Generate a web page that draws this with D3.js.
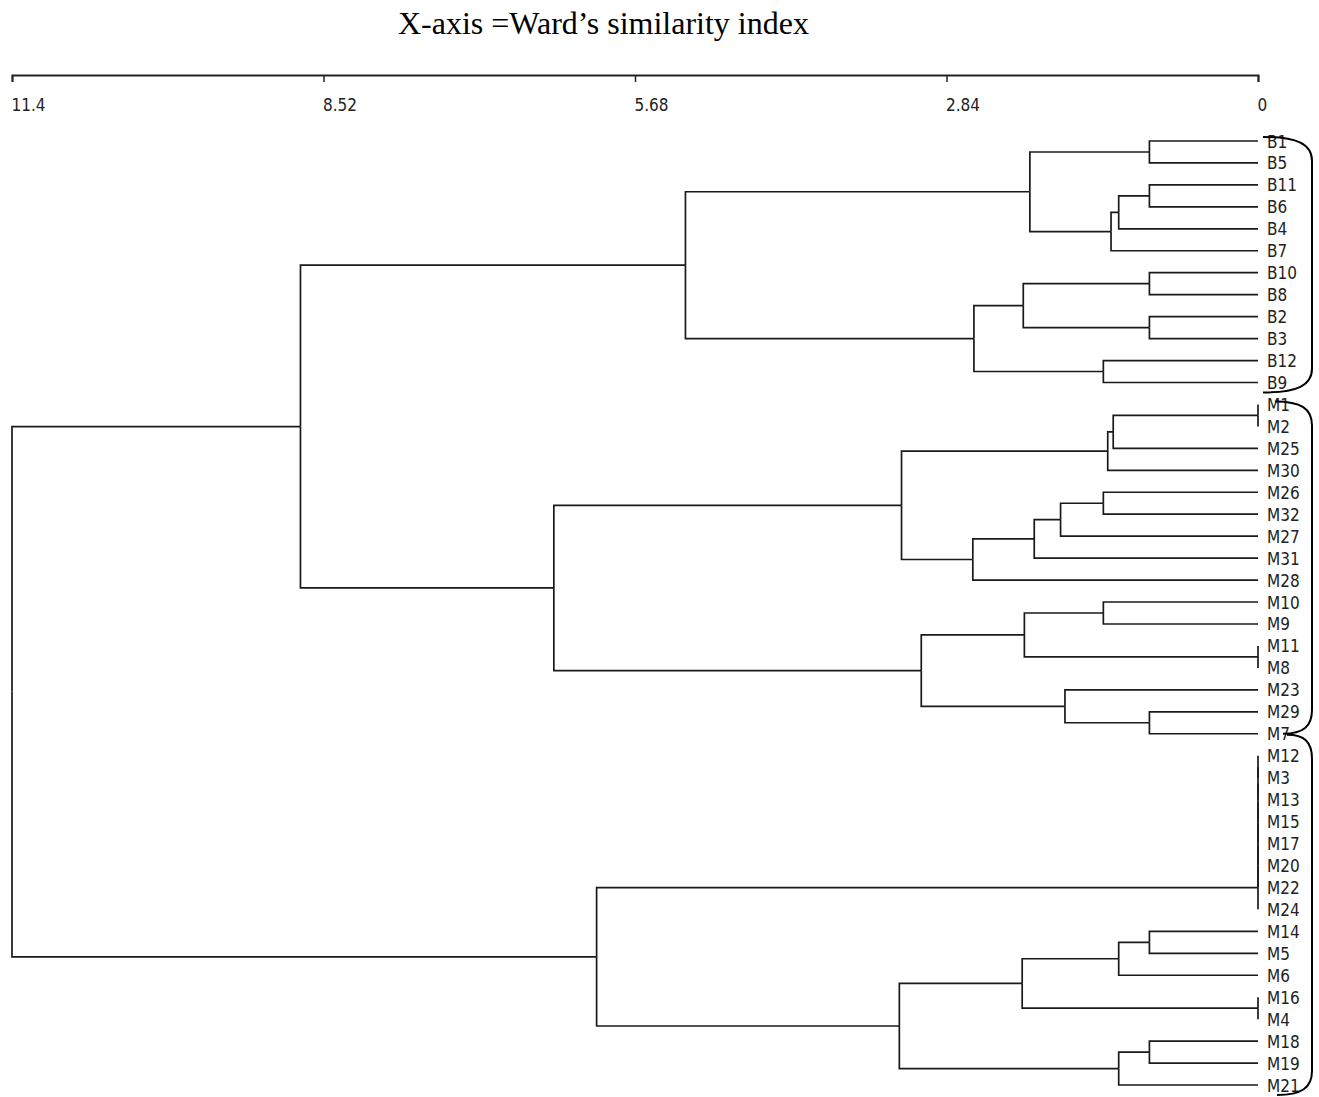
<!DOCTYPE html>
<html>
<head>
<meta charset="utf-8">
<script src="https://cdn.jsdelivr.net/npm/d3@7"></script>
<style>
  html, body { margin: 0; padding: 0; background: #fff; }
  svg { display: block; }
  .title { font-family: "Liberation Serif", "Times New Roman", serif; font-size: 32px; fill: #000; }
  .lbl { font-family: "DejaVu Sans Condensed", "DejaVu Sans", sans-serif; font-stretch: condensed; font-size: 17px; fill: #222; }
  .branch { fill: none; stroke: #1a1a1a; stroke-width: 1.7; }
  .bracket { fill: none; stroke: #000; stroke-width: 2; }
</style>
</head>
<body>
<script>
// Sample names in dendrogram order (top to bottom)
const leaves = [
  "B1", "B5", "B11", "B6", "B4", "B7", "B10", "B8", "B2", "B3", "B12", "B9",
  "M1", "M2", "M25", "M30", "M26", "M32", "M27", "M31", "M28",
  "M10", "M9", "M11", "M8", "M23", "M29", "M7",
  "M12", "M3", "M13", "M15", "M17", "M20", "M22", "M24",
  "M14", "M5", "M6", "M16", "M4", "M18", "M19", "M21"
];

// Agglomeration steps: [first, second, fusion level]
// a member is either a sample name or the index of an earlier step
const merges = [
  ["B1", "B5", 0.99],   // 0
  ["B11", "B6", 0.99],  // 1
  [1, "B4", 1.27],      // 2
  [2, "B7", 1.34],      // 3
  [0, 3, 2.08],         // 4
  ["B10", "B8", 0.99],  // 5
  ["B2", "B3", 0.99],   // 6
  [5, 6, 2.14],         // 7
  ["B12", "B9", 1.41],  // 8
  [7, 8, 2.59],         // 9
  [4, 9, 5.22],         // 10
  ["M1", "M2", 0],      // 11
  [11, "M25", 1.32],    // 12
  [12, "M30", 1.37],    // 13
  ["M26", "M32", 1.41], // 14
  [14, "M27", 1.80],    // 15
  [15, "M31", 2.04],    // 16
  [16, "M28", 2.60],    // 17
  [13, 17, 3.25],       // 18
  ["M10", "M9", 1.41],  // 19
  ["M11", "M8", 0],     // 20
  [19, 20, 2.13],       // 21
  ["M29", "M7", 0.99],  // 22
  ["M23", 22, 1.76],    // 23
  [21, 23, 3.07],       // 24
  [18, 24, 6.42],       // 25
  [10, 25, 8.73],       // 26
  ["M12", "M3", 0],     // 27
  [27, "M13", 0],       // 28
  [28, "M15", 0],       // 29
  [29, "M17", 0],       // 30
  [30, "M20", 0],       // 31
  [31, "M22", 0],       // 32
  [32, "M24", 0],       // 33
  ["M14", "M5", 0.99],  // 34
  [34, "M6", 1.27],     // 35
  ["M16", "M4", 0],     // 36
  [35, 36, 2.15],       // 37
  ["M18", "M19", 0.99], // 38
  [38, "M21", 1.27],    // 39
  [37, 39, 3.27],       // 40
  [33, 40, 6.03],       // 41
  [26, 41, 11.36]       // 42
];

// Axis ticks (every 2.84) and their printed labels
const tickValues = [11.36, 8.52, 5.68, 2.84, 0];
const tickLabels = ["11.4", "8.52", "5.68", "2.84", "0"];

// Cluster brackets drawn at the right of the labels (first and last member)
const groups = [["B1", "B9"], ["M1", "M7"], ["M7", "M21"]];

const titleText = "X-axis =Ward\u2019s similarity index";

const W = 1319, H = 1097;
const svg = d3.select("body").append("svg").attr("width", W).attr("height", H);

// Build nested structure from the agglomeration steps
const built = merges.map(() => null);
const toNode = m => (typeof m === "number") ? built[m] : { name: m, dist: 0 };
merges.forEach(([a, b, h], i) => {
  built[i] = { dist: h, children: [toNode(a), toNode(b)] };
});
const root = d3.hierarchy(built[built.length - 1]);

const x = d3.scaleLinear().domain([11.36, 0]).range([12, 1258]);
const yLeaf = d3.scalePoint().domain(leaves).range([141, 1085]);

// Leaves at their row; each fusion sits midway between its two members
root.eachAfter(n => {
  n.px = x(n.data.dist);
  n.py = n.children ? d3.mean(n.children, c => c.py) : yLeaf(n.data.name);
});

// Title
svg.append("text").attr("class", "title")
  .attr("x", 398).attr("y", 34)
  .text(titleText);

// Scale axis along the top
const axis = d3.axisBottom(x)
  .tickValues(tickValues)
  .tickFormat((d, i) => tickLabels[i])
  .tickSize(7)
  .tickSizeOuter(7);
const gAxis = svg.append("g").attr("transform", "translate(0,75)").call(axis);
gAxis.select(".domain").attr("stroke", "#222").attr("stroke-width", 2);
gAxis.selectAll(".tick line").attr("stroke", "#222").attr("stroke-width", 1.5);
gAxis.selectAll(".tick text")
  .attr("class", "lbl")
  .attr("text-anchor", "start")
  .attr("x", -1)
  .attr("y", 36)
  .attr("dy", null)
  .attr("fill", "#222");
gAxis.attr("font-family", null).attr("font-size", null);

// Branches: vertical at the parent level, horizontal out to the child
svg.append("g").selectAll("path")
  .data(root.links())
  .join("path")
  .attr("class", "branch")
  .attr("d", l => `M${l.source.px},${l.source.py}V${l.target.py}H${l.target.px}`);

// Sample labels
svg.append("g").selectAll("text")
  .data(root.leaves())
  .join("text")
  .attr("class", "lbl")
  .attr("x", 1267)
  .attr("y", d => d.py + 6.5)
  .text(d => d.data.name);

// Brackets enclosing each main cluster
const xr = 1312;
const bracketSpec = [
  { top: -4, bottom: 10, xs0: 1263, xs1: 1263 },
  { top: -3, bottom: 0, xs0: 1275, xs1: 1283 },
  { top: 1, bottom: 10, xs0: 1287, xs1: 1277 }
];
groups.forEach(([a, b], i) => {
  const s = bracketSpec[i];
  const y0 = yLeaf(a) + s.top, y1 = yLeaf(b) + s.bottom;
  const r = 24;
  const p = d3.path();
  p.moveTo(s.xs0, y0);
  p.bezierCurveTo(s.xs0 + 0.7 * (xr - s.xs0), y0, xr, y0 + 0.3 * r, xr, y0 + r);
  p.lineTo(xr, y1 - r);
  p.bezierCurveTo(xr, y1 - 0.3 * r, s.xs1 + 0.7 * (xr - s.xs1), y1, s.xs1, y1);
  svg.append("path").attr("class", "bracket").attr("d", p.toString());
});
</script>
</body>
</html>
